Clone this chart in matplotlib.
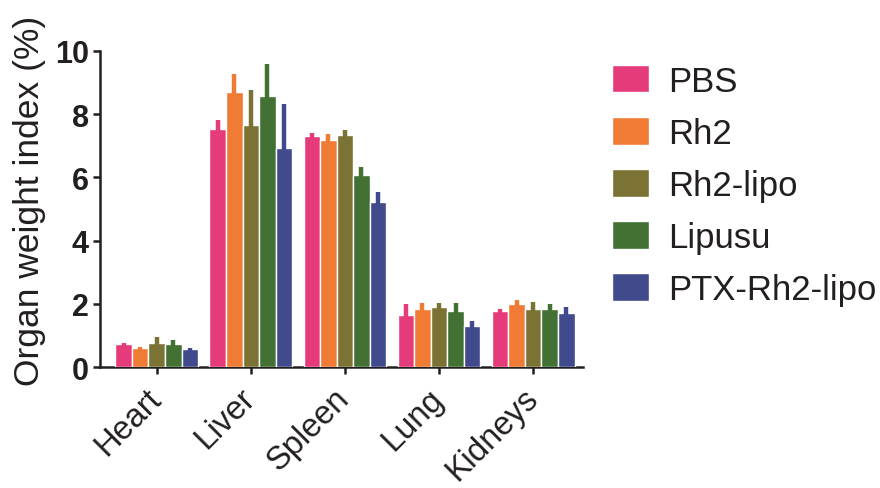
import matplotlib
matplotlib.use("Agg")
import matplotlib.pyplot as plt
import numpy as np

categories = ["Heart", "Liver", "Spleen", "Lung", "Kidneys"]
groups = ["PBS", "Rh2", "Rh2-lipo", "Lipusu", "PTX-Rh2-lipo"]
colors = ["#E63B7A", "#EF7B34", "#7B7334", "#437134", "#414A8C"]

means = {
    "PBS":          [0.72, 7.53, 7.32, 1.66, 1.76],
    "Rh2":          [0.61, 8.71, 7.19, 1.82, 2.00],
    "Rh2-lipo":     [0.76, 7.66, 7.34, 1.90, 1.85],
    "Lipusu":       [0.74, 8.57, 6.09, 1.77, 1.83],
    "PTX-Rh2-lipo": [0.57, 6.92, 5.23, 1.31, 1.70],
}
errors = {
    "PBS":          [0.03, 0.30, 0.08, 0.34, 0.07],
    "Rh2":          [0.03, 0.56, 0.19, 0.21, 0.13],
    "Rh2-lipo":     [0.19, 1.12, 0.17, 0.13, 0.20],
    "Lipusu":       [0.11, 1.03, 0.23, 0.26, 0.15],
    "PTX-Rh2-lipo": [0.02, 1.40, 0.32, 0.14, 0.20],
}

plt.rcParams['font.family'] = ['Liberation Sans', 'DejaVu Sans']
txt = "#231F20"

fig = plt.figure(figsize=(8.8, 4.89), dpi=100)
ax = fig.add_axes([100/880, 1-368/489, 483/880, 316/489])

x = np.arange(len(categories))
w = 0.176
for i, g in enumerate(groups):
    pos = x + (i - 2) * w
    m = np.array(means[g]); e = np.array(errors[g])
    ax.bar(pos, m, width=w, color=colors[i], edgecolor="white", linewidth=1.0,
           label=g, zorder=3)
    ax.vlines(pos, m - 0.12, m + e, color=colors[i], linewidth=3.2, zorder=4)

ax.set_xlim(-0.603, 4.53)
ax.set_ylim(0, 10)
ax.set_yticks([0, 2, 4, 6, 8, 10])
ax.set_xticks(x)
ax.set_xticklabels(categories, rotation=45, ha="right", va="center",
                   rotation_mode="anchor", fontsize=23.5, color=txt)
for lab in ax.get_yticklabels():
    lab.set_fontweight("bold")
    lab.set_fontsize(22)
    lab.set_color(txt)
ax.set_ylabel("Organ weight index (%)", fontsize=25.5, color=txt)
ax.yaxis.set_label_coords(-0.112, 0.53)

for s in ["top", "right"]:
    ax.spines[s].set_visible(False)
for s in ["left", "bottom"]:
    ax.spines[s].set_linewidth(1.8)
    ax.spines[s].set_color(txt)
ax.tick_params(axis="both", width=1.8, length=5, color=txt)
ax.tick_params(axis="x", pad=14)
ax.tick_params(axis="y", pad=3)

leg = fig.legend(loc="upper left", bbox_to_anchor=(612/880, 1-65.5/489),
                 frameon=False, fontsize=25, handlelength=1.07, handleheight=0.86,
                 handletextpad=0.55, labelspacing=0.55, borderpad=0, borderaxespad=0)
for t in leg.get_texts():
    t.set_color(txt)

fig.savefig("out.png", dpi=100)
